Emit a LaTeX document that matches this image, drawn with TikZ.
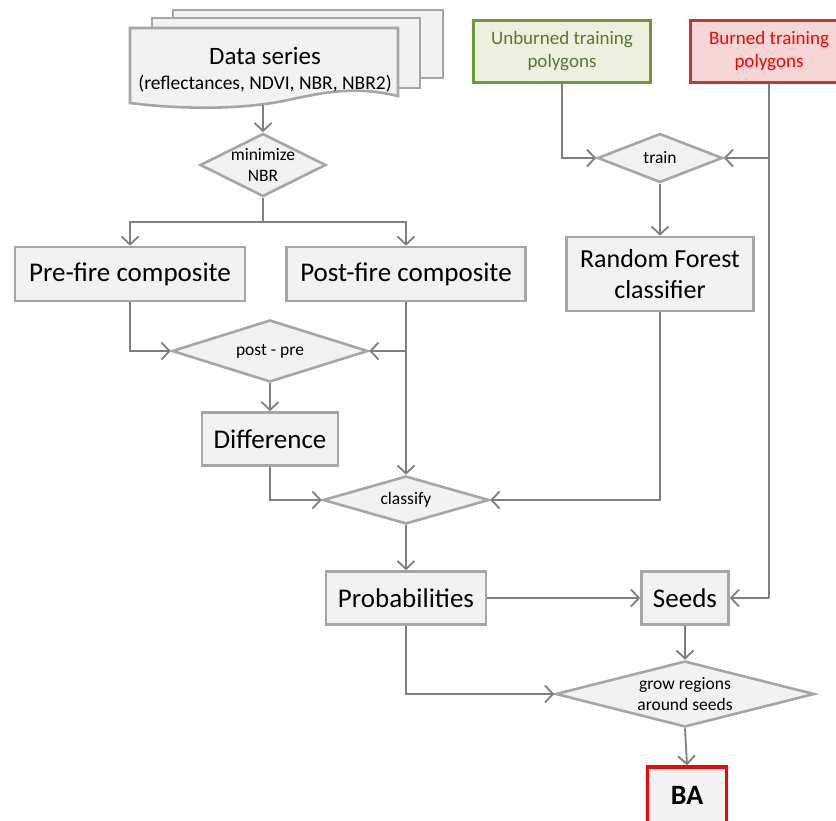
\documentclass[tikz,border=0pt]{standalone}
\usepackage{fontspec}
\setmainfont{Carlito}
\usetikzlibrary{shapes.geometric,arrows.meta}
\definecolor{boxfill}{HTML}{F2F2F2}
\definecolor{boxdraw}{HTML}{A6A6A6}
\definecolor{arr}{HTML}{7F7F7F}
\definecolor{gfill}{HTML}{EBF1DE}
\definecolor{gdraw}{HTML}{6F9A3A}
\definecolor{gtext}{HTML}{5A7536}
\definecolor{rfill}{HTML}{F6D6D6}
\definecolor{rdraw}{HTML}{B83C3C}
\definecolor{rtext}{HTML}{FF0000}
\begin{document}
\begin{tikzpicture}[x=1pt,y=-1pt,
  box/.style={rectangle,draw=boxdraw,fill=boxfill,line width=2.6pt,inner sep=0pt,align=center,font=\fontsize{27}{31}\selectfont},
  dia/.style={diamond,draw=boxdraw,fill=boxfill,line width=2.6pt,inner sep=0pt},
  dtext/.style={align=center,inner sep=0pt,font=\fontsize{17.5}{21}\selectfont},
  conn/.style={draw=arr,line width=1.8pt},
  arrw/.style={conn,-{Straight Barb[length=8pt,width=17pt,line width=1.8pt]}}
]
\useasboundingbox (0,0) rectangle (836,820);
% data series stack
\filldraw[draw=boxdraw,fill=boxfill,line width=2.6pt] (173,10) rectangle (443,78);
\filldraw[draw=boxdraw,fill=boxfill,line width=2.6pt] (152,18) rectangle (420,88);
\filldraw[draw=boxdraw,fill=boxfill,line width=2.6pt] (130,28) -- (398,28) -- (398,96)
  .. controls (340,82) and (300,100) .. (265,104) .. controls (220,110) and (170,108) .. (130,103) -- cycle;
\node[inner sep=0pt,font=\fontsize{25}{29}\selectfont] (ds) at (265,56) {Data series};
\node[inner sep=0pt,font=\fontsize{19.5}{22}\selectfont] (dssub) at (265,84) {(reflectances, NDVI, NBR, NBR2)};
\coordinate (dsb) at (263,105);
% nodes
\node[dia,minimum width=126,minimum height=63] (mn) at (263,165) {};
\node[dtext] (mnt) at (mn) {minimize\\NBR};
\node[box,minimum width=230,minimum height=54] (pre) at (130,274) {Pre-fire composite};
\node[box,minimum width=239,minimum height=54] (post) at (406,274) {Post-fire composite};
\node[dia,minimum width=196,minimum height=62] (pp) at (270,351) {};
\node[dtext] (ppt) at (pp) {post - pre};
\node[box,minimum width=136,minimum height=53] (diff) at (270,439) {Difference};
\node[dia,minimum width=166,minimum height=48] (cl) at (406,500) {};
\node[dtext] (clt) at (cl) {classify};
\node[box,minimum width=160,minimum height=53] (prob) at (406,598) {Probabilities};
\node[box,minimum width=87,minimum height=53] (seeds) at (685,598) {Seeds};
\node[dia,minimum width=259,minimum height=66] (gr) at (685,694) {};
\node[dtext] (grt) at (gr) {grow regions\\around seeds};
\node[rectangle,draw=rtext,fill=boxfill,line width=3.8pt,minimum width=79,minimum height=56,inner sep=0pt,font=\fontsize{28}{32}\selectfont\bfseries] (ba) at (687,795) {BA};
\node[rectangle,draw=gdraw,fill=gfill,line width=3pt,minimum width=177,minimum height=62,inner sep=0pt,align=center,text=gtext,font=\fontsize{19}{23}\selectfont] (ub) at (562,51) {Unburned training\\polygons};
\node[rectangle,draw=rdraw,fill=rfill,line width=3pt,minimum width=158,minimum height=62,inner sep=0pt,align=center,text=rtext,font=\fontsize{19}{23}\selectfont] (bu) at (769,51) {Burned training\\polygons};
\node[dia,minimum width=125,minimum height=49] (tr) at (660,158) {};
\node[dtext] (trt) at (tr) {train};
\node[box,minimum width=187,minimum height=74,font=\fontsize{26}{31}\selectfont] (rf) at (660,274) {Random Forest\\classifier};
% connectors
\draw[arrw] (dsb) -- (mn.north);
\coordinate (split) at (mn.south |- 0,222);
\draw[conn] (mn.south) -- (split);
\draw[arrw] (split) -| (pre.north);
\draw[arrw] (split) -| (post.north);
\draw[arrw] (pre.south) |- (pp.west);
\draw[arrw] (post.south) |- (pp.east);
\draw[arrw] (post.south) -- (cl.north);
\draw[arrw] (pp.south) -- (diff.north);
\draw[arrw] (diff.south) |- (cl.west);
\draw[arrw] (rf.south) |- (cl.east);
\draw[arrw] (cl.south) -- (prob.north);
\draw[arrw] (prob.east) -- (seeds.west);
\draw[arrw] (prob.south) |- (gr.west);
\draw[arrw] (seeds.south) -- (gr.north);
\draw[arrw] (gr.south) -- (ba.north);
\draw[arrw] (ub.south) |- (tr.west);
\coordinate (bcorner) at (bu.south |- seeds.east);
\coordinate (btr) at (bu.south |- tr.east);
\draw[conn] (bu.south) -- (bcorner);
\draw[arrw] (bcorner) -- (seeds.east);
\draw[arrw] (btr) -- (tr.east);
\draw[arrw] (tr.south) -- (rf.north);
\end{tikzpicture}
\end{document}
